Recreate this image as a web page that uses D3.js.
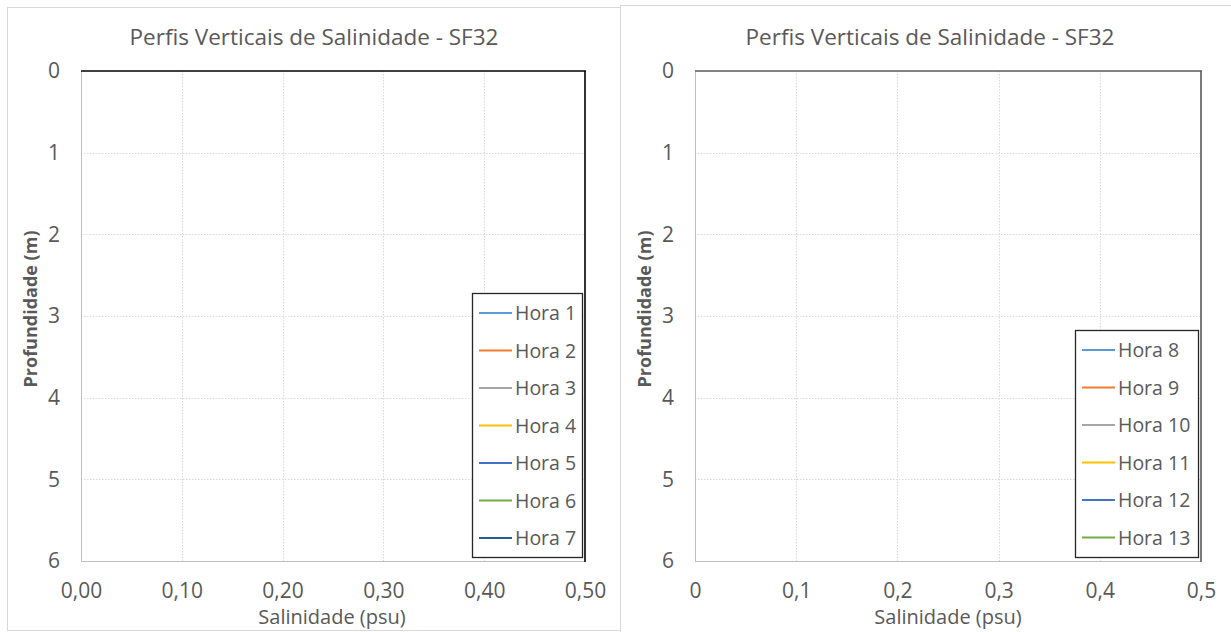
<!DOCTYPE html>
<html>
  <head>
    <meta http-equiv="Content-Type" content="text/html;charset=utf-8">
    <title>Perfis Verticais de Salinidade - SF32</title>
    <script type="text/javascript" src="https://d3js.org/d3.v7.min.js"></script>
    <style>
      html, body {
        margin: 0;
        padding: 0;
        background: #fff;
      }
      text {
        font-family: "Open Sans", sans-serif;
        fill: #595959;
      }
      .grid line {
        stroke: #d9d9d9;
        stroke-dasharray: 1.5,1.5;
      }
      .axis path, .axis line {
        fill: none;
      }
    </style>
  </head>
  <body>
<script type="text/javascript">

// depth axis (m) and salinity axis (psu)
var depthTicks = [0, 1, 2, 3, 4, 5, 6];
var salTicks = [0, 0.1, 0.2, 0.3, 0.4, 0.5];

// series names
var horasA = ["Hora 1", "Hora 2", "Hora 3", "Hora 4", "Hora 5", "Hora 6", "Hora 7"];
var horasB = ["Hora 8", "Hora 9", "Hora 10", "Hora 11", "Hora 12", "Hora 13"];

// no profile points are visible in the picture, so each series is empty
var profA = [[], [], [], [], [], [], []];
var profB = [[], [], [], [], [], []];

var cores = ["#5b9bd5", "#ed7d31", "#a5a5a5", "#ffc000", "#4472c4", "#70ad47", "#255e91"];

var ptBR = d3.formatLocale({decimal: ",", thousands: ".", grouping: [3], currency: ["R$", ""]});

var svg = d3.select("body").append("svg")
    .attr("width", 1231)
    .attr("height", 632);

function painel(cfg) {
  var g = svg.append("g");

  // outer chart frame
  g.append("rect")
    .attr("x", cfg.box[0] + 0.5).attr("y", cfg.box[1] + 0.5)
    .attr("width", cfg.box[2]).attr("height", cfg.box[3])
    .attr("fill", "#fff").attr("stroke", "#d9d9d9");

  var x = d3.scaleLinear().domain([0, 0.5]).range([cfg.left, cfg.right]);
  var y = d3.scaleLinear().domain([0, 6]).range([cfg.top, cfg.bottom]);

  // gridlines
  g.append("g").attr("class", "grid")
    .selectAll("line.v").data(salTicks.slice(1, -1)).enter().append("line")
    .attr("x1", function(d) { return Math.round(x(d)) + 0.5; })
    .attr("x2", function(d) { return Math.round(x(d)) + 0.5; })
    .attr("y1", cfg.top).attr("y2", cfg.bottom);
  g.append("g").attr("class", "grid")
    .selectAll("line.h").data(depthTicks.slice(1, -1)).enter().append("line")
    .attr("y1", function(d) { return Math.round(y(d)) + 0.5; })
    .attr("y2", function(d) { return Math.round(y(d)) + 0.5; })
    .attr("x1", cfg.left).attr("x2", cfg.right);

  // axes
  var xAxis = d3.axisBottom(x).tickValues(salTicks).tickSize(0).tickPadding(22)
      .tickFormat(cfg.fmt);
  var xg = g.append("g").attr("class", "axis")
    .attr("transform", "translate(0," + cfg.bottom + ")")
    .call(xAxis);
  xg.select(".domain").remove();
  xg.selectAll("text").style("font-size", "21px").attr("fill", "#595959");

  var yAxis = d3.axisLeft(y).tickValues(depthTicks).tickSize(0).tickPadding(21)
      .tickFormat(d3.format("d"));
  var yg = g.append("g").attr("class", "axis")
    .attr("transform", "translate(" + cfg.left + ",0)")
    .call(yAxis);
  yg.select(".domain").remove();
  yg.selectAll("text").style("font-size", "21px").attr("fill", "#595959");

  // plot frame: left/bottom gray, top/right dark
  g.append("line").attr("x1", cfg.left + 0.5).attr("x2", cfg.left + 0.5)
    .attr("y1", cfg.top).attr("y2", cfg.bottom + 0.5).attr("stroke", "#bfbfbf");
  g.append("line").attr("x1", cfg.left).attr("x2", cfg.right)
    .attr("y1", cfg.bottom + 0.5).attr("y2", cfg.bottom + 0.5).attr("stroke", "#bfbfbf");
  g.append("line").attr("x1", cfg.left).attr("x2", cfg.right + 1)
    .attr("y1", cfg.top).attr("y2", cfg.top).attr("stroke", cfg.frame).attr("stroke-width", 1.6);
  g.append("line").attr("x1", cfg.right).attr("x2", cfg.right)
    .attr("y1", cfg.top).attr("y2", cfg.bottom + 1).attr("stroke", cfg.frame).attr("stroke-width", 1.6);

  // profiles
  var line = d3.line()
    .x(function(d) { return x(d.sal); })
    .y(function(d) { return y(d.prof); });
  g.selectAll("path.perfil").data(cfg.perfis).enter().append("path")
    .attr("class", "perfil")
    .attr("fill", "none")
    .attr("stroke", function(d, i) { return cores[i]; })
    .attr("stroke-width", 2)
    .attr("d", function(d) { return d.length ? line(d) : null; });

  // titles
  g.append("text")
    .attr("x", cfg.titleX).attr("y", 45)
    .attr("text-anchor", "middle")
    .style("font-size", "22.5px")
    .text("Perfis Verticais de Salinidade - SF32");
  g.append("text")
    .attr("x", cfg.xLabX).attr("y", 624)
    .attr("text-anchor", "middle")
    .style("font-size", "20px")
    .text("Salinidade (psu)");
  g.append("text")
    .attr("transform", "translate(" + cfg.yLabX + ",309) rotate(-90)")
    .attr("text-anchor", "middle")
    .style("font-size", "18px")
    .style("font-weight", "bold")
    .text("Profundidade (m)");

  // legend
  var lg = g.append("g");
  lg.append("rect")
    .attr("x", cfg.leg[0] + 0.5).attr("y", cfg.leg[1] + 0.5)
    .attr("width", cfg.leg[2]).attr("height", cfg.leg[3])
    .attr("fill", "#fff").attr("stroke", "#262626").attr("stroke-width", 1.3);
  var it = lg.selectAll("g.item").data(cfg.nomes).enter().append("g")
    .attr("transform", function(d, i) {
      return "translate(" + (cfg.leg[0] + 7) + "," + (cfg.leg[1] + 20 + i * 37.5) + ")";
    });
  it.append("line").attr("x1", 0).attr("x2", 33)
    .attr("stroke", function(d, i) { return cores[i]; }).attr("stroke-width", 2);
  it.append("text").attr("x", 36).attr("dy", "0.36em")
    .style("font-size", "19.5px")
    .text(function(d) { return d; });
}

painel({
  box: [7, 7, 613, 623],
  left: 81, right: 585, top: 71, bottom: 561,
  fmt: ptBR.format(".2f"),
  frame: "#000",
  titleX: 314, xLabX: 332, yLabX: 37,
  leg: [472, 293, 110, 264],
  nomes: horasA, perfis: profA
});

painel({
  box: [620, 5, 620, 640],
  left: 695, right: 1201, top: 71, bottom: 561,
  fmt: function(d) { return d === 0 ? "0" : ptBR.format(".1f")(d); },
  frame: "#595959",
  titleX: 930, xLabX: 948, yLabX: 651,
  leg: [1075, 330, 123, 227],
  nomes: horasB, perfis: profB
});

</script>
  </body>
</html>
